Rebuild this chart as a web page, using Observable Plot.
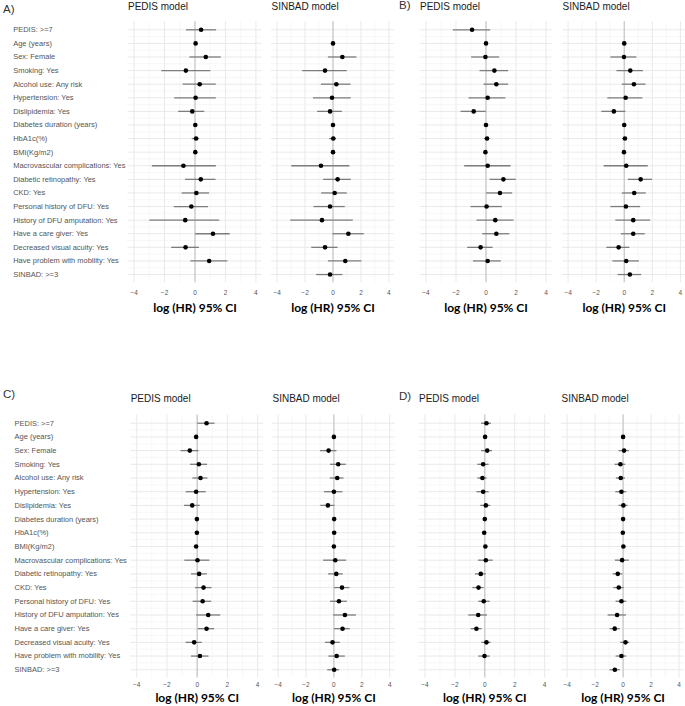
<!DOCTYPE html>
<html><head><meta charset="utf-8">
<script src="https://cdn.jsdelivr.net/npm/d3@7"></script>
<script src="https://cdn.jsdelivr.net/npm/@observablehq/plot@0.6"></script>
<style>
body{margin:0;background:#fff;}
#wrap{position:relative;width:685px;height:706px;overflow:hidden;font-family:"Liberation Sans",Arial,sans-serif;}
#wrap svg{position:absolute;}
.tag{position:absolute;font-family:"Liberation Sans",Arial,sans-serif;font-size:11.5px;color:#333;line-height:1;}
</style></head><body><div id="wrap"></div>
<script>
// ---- data ----
const labels = ["PEDIS: >=7","Age (years)","Sex: Female","Smoking: Yes","Alcohol use: Any risk","Hypertension: Yes","Dislipidemia: Yes","Diabetes duration (years)","HbA1c(%)","BMI(Kg/m2)","Macrovascular complications: Yes","Diabetic retinopathy: Yes","CKD: Yes","Personal history of DFU: Yes","History of DFU amputation: Yes","Have a care giver: Yes","Decreased visual acuity: Yes","Have problem with mobility: Yes","SINBAD: >=3"];
const panelTags = ["A)","B)","C)","D)"];
const modelTitles = ["PEDIS model","SINBAD model"];
const axisTitle = "log (HR) 95% CI";
const xTicks = [-4,-2,0,2,4];
const xMinorTicks = [-3,-1,1,3];

const aPedisEst  = [0.40,0.04,0.71,-0.60,0.31,0.04,-0.18,0.02,0.07,0.02,-0.76,0.38,0.09,-0.24,-0.64,1.18,-0.62,0.93,null];
const aPedisLow  = [-0.56,-0.02,-0.33,-2.18,-0.78,-1.33,-1.07,-0.02,-0.18,-0.02,-2.80,-0.62,-0.84,-1.36,-2.96,0.04,-1.53,-0.27,null];
const aPedisHigh = [1.42,0.10,1.73,1.04,1.40,1.40,0.64,0.06,0.31,0.06,1.40,1.38,0.96,0.89,1.62,2.31,0.29,2.16,null];

const aSinbadEst  = [null,0.00,0.67,-0.57,0.24,-0.07,-0.21,0.00,0.02,0.00,-0.86,0.33,0.12,-0.21,-0.79,1.10,-0.57,0.88,-0.21];
const aSinbadLow  = [null,-0.05,-0.33,-2.17,-0.83,-1.40,-1.10,-0.05,-0.24,-0.05,-2.95,-0.67,-0.81,-1.36,-3.02,0.00,-1.52,-0.33,-1.17];
const aSinbadHigh = [null,0.05,1.71,1.02,1.29,1.31,0.67,0.05,0.26,0.05,1.21,1.31,1.02,0.88,1.45,2.24,0.36,2.07,0.71];

const bPedisEst  = [-0.93,0.00,-0.04,0.56,0.69,0.11,-0.82,0.00,0.07,-0.04,0.11,1.16,0.93,0.04,0.62,0.69,-0.36,0.11,null];
const bPedisLow  = [-2.18,-0.05,-0.96,-0.40,-0.13,-1.13,-1.67,-0.05,-0.11,-0.09,-1.42,0.27,0.04,-1.00,-0.60,-0.22,-1.22,-0.84,null];
const bPedisHigh = [0.31,0.05,0.91,1.51,1.51,1.33,0.02,0.05,0.24,0.01,1.67,2.02,1.78,1.09,1.87,1.58,0.47,1.02,null];

const bSinbadEst  = [null,0.00,-0.02,0.43,0.69,0.10,-0.74,0.00,0.05,-0.02,0.14,1.17,0.71,0.12,0.64,0.64,-0.40,0.14,0.40];
const bSinbadLow  = [null,-0.05,-0.95,-0.52,-0.14,-1.17,-1.60,-0.05,-0.12,-0.07,-1.43,0.29,-0.14,-0.95,-0.60,-0.21,-1.24,-0.81,-0.43];
const bSinbadHigh = [null,0.05,0.90,1.36,1.55,1.33,0.12,0.05,0.22,0.03,1.71,2.02,1.57,1.17,1.88,1.50,0.40,1.07,1.24];

const cPedisEst  = [0.62,-0.07,-0.49,0.11,0.22,-0.07,-0.33,-0.02,-0.02,-0.07,0.02,0.13,0.42,0.36,0.73,0.62,-0.20,0.18,null];
const cPedisLow  = [0.04,-0.12,-1.07,-0.44,-0.29,-0.73,-0.84,-0.07,-0.07,-0.12,-0.82,-0.38,-0.11,-0.27,-0.04,0.07,-0.73,-0.38,null];
const cPedisHigh = [1.18,-0.02,0.13,0.69,0.71,0.60,0.20,0.03,0.03,-0.02,0.84,0.67,0.98,0.96,1.56,1.16,0.33,0.78,null];

const cSinbadEst  = [null,0.00,-0.38,0.31,0.24,0.00,-0.43,0.02,0.02,0.00,0.10,0.17,0.58,0.36,0.79,0.62,-0.10,0.20,0.02];
const cSinbadLow  = [null,-0.05,-0.96,-0.24,-0.26,-0.67,-0.94,-0.03,-0.03,-0.05,-0.74,-0.38,0.05,-0.24,-0.02,0.05,-0.60,-0.36,-0.44];
const cSinbadHigh = [null,0.05,0.22,0.89,0.72,0.65,0.07,0.07,0.07,0.05,0.91,0.67,1.15,0.96,1.61,1.18,0.46,0.82,0.41];

const dPedisEst  = [0.11,0.02,0.16,-0.11,-0.16,-0.11,0.07,0.00,-0.04,0.04,0.07,-0.27,-0.42,-0.07,-0.44,-0.56,0.11,-0.02,null];
const dPedisLow  = [-0.22,-0.03,-0.22,-0.47,-0.47,-0.53,-0.27,-0.05,-0.09,-0.01,-0.42,-0.62,-0.80,-0.40,-1.07,-0.91,-0.20,-0.40,null];
const dPedisHigh = [0.44,0.07,0.51,0.29,0.16,0.29,0.40,0.05,0.01,0.09,0.56,0.09,-0.04,0.36,0.18,-0.18,0.42,0.36,null];

const dSinbadEst  = [null,0.00,0.07,-0.19,-0.17,-0.12,0.02,0.00,-0.02,0.02,-0.07,-0.38,-0.31,-0.12,-0.43,-0.60,0.17,-0.12,-0.59];
const dSinbadLow  = [null,-0.05,-0.29,-0.57,-0.48,-0.52,-0.29,-0.05,-0.07,-0.03,-0.55,-0.71,-0.67,-0.50,-1.07,-0.93,-0.17,-0.50,-0.93];
const dSinbadHigh = [null,0.05,0.45,0.19,0.17,0.26,0.36,0.05,0.03,0.07,0.45,-0.02,0.07,0.26,0.24,-0.21,0.48,0.26,-0.20];

// ---- layout ----
const FONT = '"Liberation Sans", Arial, sans-serif';
const wrap = document.getElementById("wrap");
const n = labels.length;

function panel(o) {
  const rows = labels.map((label, i) => ({i, label, est: o.est[i], lo: o.lo[i], hi: o.hi[i]}));
  const valid = rows.filter(d => d.est != null);
  const minorRows = rows.slice(1).map(d => d.i - 0.5);
  const height = o.mt + o.ah + o.mb;
  const marks = [
    Plot.ruleY(minorRows, {stroke: "#f1f1f1", strokeWidth: 0.6}),
    Plot.ruleX(xMinorTicks, {stroke: "#f1f1f1", strokeWidth: 0.6}),
    Plot.ruleY(rows, {y: "i", stroke: "#e9e9e9", strokeWidth: 1}),
    Plot.ruleX(xTicks, {stroke: "#e9e9e9", strokeWidth: 1}),
    Plot.ruleX([0], {stroke: "#c4c4c4", strokeWidth: 1.1}),
    Plot.ruleY(valid, {y: "i", x1: "lo", x2: "hi", stroke: "#7d7d7d", strokeWidth: 1.3}),
    Plot.dot(valid, {x: "est", y: "i", r: 2.3, fill: "#000", stroke: "none"}),
    Plot.axisX(xTicks, {anchor: "bottom", tickSize: 0, tickPadding: o.tickPad, fill: "#555"}),
    Plot.text([o.title], {frameAnchor: "top-left", textAnchor: "start", lineAnchor: "middle", dy: o.titleY - o.mt, fontSize: 10, fill: "#1a1a1a", fontFamily: FONT}),
    Plot.text([axisTitle], {frameAnchor: "bottom", lineAnchor: "middle", dy: o.axTitleDy, fontSize: 12, fontWeight: "bold", fill: "#000", fontFamily: "Lato, 'Liberation Sans', sans-serif"})
  ];
  if (o.showLabels) {
    marks.push(Plot.text(rows, {y: "i", text: "label", frameAnchor: "left", textAnchor: "start", dx: o.labelX - o.ml, fontSize: 7.5, fill: "#555", fontFamily: FONT}));
  }
  const svg = Plot.plot({
    width: o.ml + o.aw, height,
    marginLeft: o.ml, marginRight: 0, marginTop: o.mt, marginBottom: o.mb,
    x: {domain: [-4.4, 4.4], axis: null},
    y: {domain: [n - 1 + 0.6, -0.6], axis: null},
    style: {fontFamily: FONT, fontSize: "6.5px", color: "#555", background: "transparent"},
    marks
  });
  svg.style.left = o.left + "px";
  svg.style.top = o.top + "px";
  wrap.appendChild(svg);
}

const top1 = {top: 0, mt: 21.15, ah: 261.05, mb: 38, titleY: 6, tickPad: 7.5, axTitleDy: 25.5};
const top2 = {top: 390, mt: 24.5, ah: 263, mb: 28.5, titleY: 8.3, tickPad: 4.5, axTitleDy: 20};

panel({...top1, est: aPedisEst, lo: aPedisLow, hi: aPedisHigh, title: modelTitles[0], left: 0, ml: 127.5, aw: 134, showLabels: true, labelX: 12.7});
panel({...top1, est: aSinbadEst, lo: aSinbadLow, hi: aSinbadHigh, title: modelTitles[1], left: 271, ml: 0, aw: 123});
panel({...top1, est: bPedisEst, lo: bPedisLow, hi: bPedisHigh, title: modelTitles[0], left: 398, ml: 21.5, aw: 132});
panel({...top1, est: bSinbadEst, lo: bSinbadLow, hi: bSinbadHigh, title: modelTitles[1], left: 561.5, ml: 0, aw: 123.5});

panel({...top2, est: cPedisEst, lo: cPedisLow, hi: cPedisHigh, title: modelTitles[0], left: 0, ml: 130.2, aw: 133, showLabels: true, labelX: 14});
panel({...top2, est: cSinbadEst, lo: cSinbadLow, hi: cSinbadHigh, title: modelTitles[1], left: 272.3, ml: 0, aw: 122.8});
panel({...top2, est: dPedisEst, lo: dPedisLow, hi: dPedisHigh, title: modelTitles[0], left: 398, ml: 20.5, aw: 131.6});
panel({...top2, est: dSinbadEst, lo: dSinbadLow, hi: dSinbadHigh, title: modelTitles[1], left: 560.7, ml: 0, aw: 123.2});

const tagPos = [[3, 4], [399, 0], [3, 389], [399, 391]];
panelTags.forEach((t, k) => {
  const d = document.createElement("div");
  d.className = "tag";
  d.textContent = t;
  d.style.left = tagPos[k][0] + "px";
  d.style.top = tagPos[k][1] + "px";
  wrap.appendChild(d);
});
</script></body></html>
